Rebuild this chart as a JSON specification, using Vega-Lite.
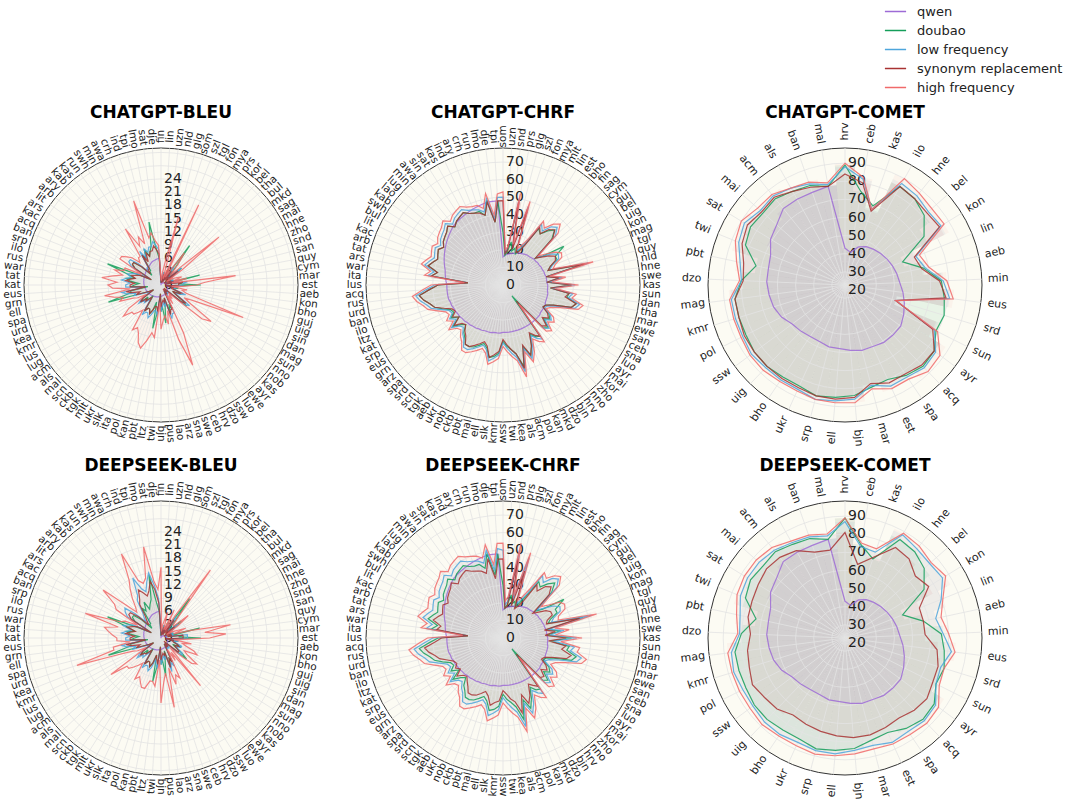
{
  "$schema": "https://vega.github.io/schema/vega-lite/v6.json",
  "autosize": {"type": "pad"},
  "padding": {"left": 3, "top": 0, "right": 0, "bottom": 0},
  "background": "white",
  "config": {
    "font": "DejaVu Sans",
    "view": {"stroke": null},
    "title": {"fontSize": 17, "fontWeight": "bold", "color": "#000000", "offset": 6},
    "legend": {"orient": "none", "legendX": 873, "legendY": -135, "symbolType": "stroke", "symbolSize": 450, "symbolStrokeWidth": 1.5, "labelFontSize": 13, "labelColor": "#222222", "rowPadding": -1, "labelOffset": 10, "padding": 0}
  },
  "datasets": {
    "names": [
      {"k": "q", "s": "qwen"}, {"k": "d", "s": "doubao"},
      {"k": "cl", "s": "low frequency"}, {"k": "cs", "s": "synonym replacement"}, {"k": "ch", "s": "high frequency"},
      {"k": "dl", "s": "low frequency"}, {"k": "ds", "s": "synonym replacement"}, {"k": "dh", "s": "high frequency"}
    ],
    "ticks": [
      {"m": "B", "t": 0}, {"m": "B", "t": 3}, {"m": "B", "t": 6}, {"m": "B", "t": 9}, {"m": "B", "t": 12}, {"m": "B", "t": 15}, {"m": "B", "t": 18}, {"m": "B", "t": 21}, {"m": "B", "t": 24}, {"m": "B", "t": 27}, {"m": "B", "t": 30},
      {"m": "C", "t": 0}, {"m": "C", "t": 10}, {"m": "C", "t": 20}, {"m": "C", "t": 30}, {"m": "C", "t": 40}, {"m": "C", "t": 50}, {"m": "C", "t": 60}, {"m": "C", "t": 70},
      {"m": "M", "t": 20}, {"m": "M", "t": 30}, {"m": "M", "t": 40}, {"m": "M", "t": 50}, {"m": "M", "t": 60}, {"m": "M", "t": 70}, {"m": "M", "t": 80}, {"m": "M", "t": 90}
    ],
    "B": [
      {"l":"fin","q":0.1,"d":0.5,"cl":1,"cs":0.8,"ch":1.5,"dl":2,"ds":1.5,"dh":16},
      {"l":"lin","q":0.1,"d":1,"cl":0.6,"cs":0.5,"ch":1,"dl":0.8,"ds":0.6,"dh":1.5},
      {"l":"uzn","q":0.2,"d":1.5,"cl":1.2,"cs":1,"ch":3,"dl":1.5,"ds":1.2,"dh":3},
      {"l":"nld","q":0.2,"d":2,"cl":2.5,"cs":1.5,"ch":6,"dl":2,"ds":1.5,"dh":4},
      {"l":"glg","q":0.3,"d":3,"cl":3,"cs":2.5,"ch":16,"dl":3,"ds":2.5,"dh":6},
      {"l":"som","q":0.3,"d":1,"cl":0.8,"cs":0.6,"ch":1.5,"dl":1,"ds":0.8,"dh":2},
      {"l":"szl","q":0.4,"d":1.5,"cl":1.5,"cs":1,"ch":3,"dl":1.5,"ds":1,"dh":2.5},
      {"l":"tgl","q":0.4,"d":4,"cl":5,"cs":4,"ch":20,"dl":4,"ds":3,"dh":7},
      {"l":"fon","q":0.5,"d":2,"cl":1,"cs":0.8,"ch":2,"dl":1,"ds":0.8,"dh":2},
      {"l":"mya","q":0.5,"d":3,"cl":2,"cs":1.5,"ch":4,"dl":2.5,"ds":2,"dh":6},
      {"l":"prs","q":0.6,"d":11,"cl":5,"cs":4,"ch":9,"dl":6,"ds":5,"dh":19},
      {"l":"kor","q":0.6,"d":5,"cl":3,"cs":2.5,"ch":6,"dl":3,"ds":2.5,"dh":6},
      {"l":"bel","q":0.7,"d":2,"cl":2,"cs":1.5,"ch":3,"dl":2,"ds":1.5,"dh":4},
      {"l":"tha","q":0.7,"d":3,"cl":3,"cs":2.5,"ch":5,"dl":2.5,"ds":2,"dh":4},
      {"l":"bul","q":0.8,"d":6,"cl":6,"cs":5,"ch":17,"dl":5,"ds":4,"dh":8},
      {"l":"mkd","q":0.8,"d":3,"cl":3,"cs":2.5,"ch":6,"dl":3,"ds":2.5,"dh":5},
      {"l":"sag","q":0.9,"d":1,"cl":1,"cs":0.8,"ch":1.5,"dl":1,"ds":0.8,"dh":1.5},
      {"l":"mai","q":0.9,"d":2,"cl":2,"cs":1.5,"ch":3,"dl":2,"ds":1.5,"dh":3},
      {"l":"hne","q":1,"d":2.5,"cl":2.5,"cs":2,"ch":4,"dl":2.5,"ds":2,"dh":4},
      {"l":"zho","q":1,"d":3,"cl":3,"cs":2.5,"ch":5,"dl":3,"ds":2.5,"dh":6},
      {"l":"snd","q":1.1,"d":2,"cl":2,"cs":1.5,"ch":3,"dl":2,"ds":1.5,"dh":3},
      {"l":"san","q":1.1,"d":9,"cl":4,"cs":3,"ch":6,"dl":3,"ds":2.5,"dh":7},
      {"l":"quy","q":1.2,"d":1.5,"cl":1.5,"cs":1,"ch":2.5,"dl":2,"ds":1.5,"dh":16},
      {"l":"cym","q":1.2,"d":5,"cl":6,"cs":5,"ch":17,"dl":6,"ds":5,"dh":10},
      {"l":"mar","q":1.3,"d":4,"cl":5,"cs":4,"ch":10,"dl":6,"ds":5,"dh":14.7},
      {"l":"est","q":1.3,"d":9,"cl":5,"cs":4,"ch":8,"dl":6,"ds":5,"dh":11},
      {"l":"aeb","q":1.4,"d":3,"cl":3,"cs":2.5,"ch":5,"dl":3,"ds":2.5,"dh":5},
      {"l":"kon","q":1.4,"d":1.5,"cl":1.5,"cs":1,"ch":2.5,"dl":1.5,"ds":1,"dh":3},
      {"l":"bho","q":1.5,"d":4,"cl":3.5,"cs":3,"ch":6,"dl":4,"ds":3,"dh":7},
      {"l":"guj","q":1.5,"d":3,"cl":3,"cs":2.5,"ch":5,"dl":3,"ds":2.5,"dh":5},
      {"l":"uig","q":1.6,"d":3,"cl":3,"cs":2.5,"ch":6,"dl":3.5,"ds":3,"dh":6},
      {"l":"sin","q":1.6,"d":4,"cl":6,"cs":5,"ch":20,"dl":5,"ds":4,"dh":8},
      {"l":"dan","q":1.7,"d":5,"cl":5,"cs":4.5,"ch":9,"dl":5,"ds":4.5,"dh":9},
      {"l":"mag","q":1.7,"d":3,"cl":3.5,"cs":3,"ch":6,"dl":4,"ds":3.5,"dh":6},
      {"l":"sun","q":1.8,"d":4,"cl":4.5,"cs":4,"ch":8,"dl":4.5,"ds":4,"dh":7},
      {"l":"nno","q":1.8,"d":6,"cl":8,"cs":7,"ch":14,"dl":6,"ds":5,"dh":10},
      {"l":"nob","q":1.9,"d":7.5,"cl":7,"cs":6,"ch":12,"dl":6,"ds":5,"dh":9},
      {"l":"kas","q":1.9,"d":2,"cl":2.5,"cs":2,"ch":4,"dl":2.5,"ds":2,"dh":5},
      {"l":"ayr","q":2,"d":1.5,"cl":1.5,"cs":1,"ch":2.5,"dl":1.5,"ds":1,"dh":3},
      {"l":"ewe","q":2,"d":2,"cl":2.5,"cs":2,"ch":4,"dl":3,"ds":2.5,"dh":14},
      {"l":"luo","q":2.1,"d":2,"cl":2,"cs":1.5,"ch":3,"dl":2,"ds":1.5,"dh":4},
      {"l":"ssw","q":2.1,"d":2.5,"cl":3,"cs":2.5,"ch":5,"dl":3,"ds":2.5,"dh":6},
      {"l":"dzo","q":2.2,"d":1.5,"cl":1.5,"cs":1,"ch":2.5,"dl":2,"ds":1.5,"dh":3},
      {"l":"hrv","q":2.2,"d":6,"cl":7,"cs":6,"ch":12,"dl":7,"ds":6,"dh":10},
      {"l":"ceb","q":2.3,"d":5,"cl":7,"cs":6,"ch":19.5,"dl":6,"ds":5,"dh":9},
      {"l":"swe","q":2.3,"d":7,"cl":8,"cs":7,"ch":13,"dl":8,"ds":7,"dh":11},
      {"l":"sna","q":2.4,"d":3,"cl":3.5,"cs":3,"ch":6,"dl":4,"ds":3.5,"dh":7},
      {"l":"arz","q":2.4,"d":5,"cl":5,"cs":4,"ch":9,"dl":5,"ds":4,"dh":16},
      {"l":"lao","q":2.5,"d":8.7,"cl":4,"cs":3.5,"ch":7,"dl":4,"ds":3.5,"dh":8},
      {"l":"pus","q":2.5,"d":5,"cl":5,"cs":4,"ch":8,"dl":5,"ds":4,"dh":10},
      {"l":"bjn","q":2.6,"d":6,"cl":6,"cs":5,"ch":10,"dl":6,"ds":5,"dh":14.7},
      {"l":"twi","q":2.6,"d":2,"cl":2.5,"cs":2,"ch":4,"dl":2.5,"ds":2,"dh":5},
      {"l":"ltz","q":2.7,"d":6,"cl":7,"cs":6,"ch":12,"dl":7,"ds":6,"dh":11},
      {"l":"pbt","q":2.7,"d":10,"cl":6,"cs":5,"ch":11,"dl":6,"ds":5,"dh":10},
      {"l":"kan","q":2.8,"d":4,"cl":6,"cs":5,"ch":13,"dl":5,"ds":4,"dh":10},
      {"l":"pol","q":2.8,"d":6,"cl":7,"cs":6,"ch":15,"dl":7,"ds":6,"dh":12},
      {"l":"ita","q":2.9,"d":7,"cl":8,"cs":7,"ch":14,"dl":8,"ds":7,"dh":12},
      {"l":"slk","q":2.9,"d":6,"cl":7,"cs":6,"ch":12,"dl":7,"ds":6,"dh":11},
      {"l":"ukr","q":3,"d":6,"cl":7,"cs":6,"ch":11,"dl":7,"ds":6,"dh":10},
      {"l":"mlt","q":3,"d":7,"cl":8,"cs":7,"ch":12,"dl":8,"ds":7,"dh":11},
      {"l":"tgk","q":3.1,"d":3,"cl":4,"cs":3.5,"ch":7,"dl":4,"ds":3.5,"dh":7},
      {"l":"ckb","q":3.1,"d":4,"cl":4.5,"cs":4,"ch":8,"dl":4.5,"ds":4,"dh":8},
      {"l":"scn","q":3.2,"d":5,"cl":5.5,"cs":5,"ch":9,"dl":6,"ds":5,"dh":9},
      {"l":"mal","q":3.2,"d":4,"cl":5,"cs":4.5,"ch":9,"dl":5.5,"ds":5,"dh":10},
      {"l":"als","q":3.3,"d":6,"cl":6.5,"cs":6,"ch":11,"dl":7,"ds":6,"dh":10},
      {"l":"acm","q":3.3,"d":5,"cl":5.5,"cs":5,"ch":9,"dl":6,"ds":5,"dh":14},
      {"l":"lug","q":3.4,"d":2,"cl":2.5,"cs":2,"ch":4,"dl":2.5,"ds":2,"dh":4},
      {"l":"lus","q":3.4,"d":3,"cl":3.5,"cs":3,"ch":6,"dl":3.5,"ds":3,"dh":6},
      {"l":"kmr","q":3.5,"d":4,"cl":4.5,"cs":4,"ch":7,"dl":4.5,"ds":4,"dh":7},
      {"l":"kea","q":3.5,"d":6,"cl":6.5,"cs":6,"ch":10,"dl":7,"ds":6,"dh":10},
      {"l":"urd","q":3.6,"d":12.5,"cl":6,"cs":5,"ch":9,"dl":6,"ds":5,"dh":20},
      {"l":"spa","q":3.6,"d":7,"cl":8,"cs":7,"ch":11,"dl":8,"ds":7,"dh":11},
      {"l":"ell","q":3.7,"d":7,"cl":9,"cs":8,"ch":13,"dl":9,"ds":8,"dh":11},
      {"l":"grn","q":3.7,"d":3,"cl":4,"cs":3.5,"ch":7,"dl":4,"ds":3.5,"dh":7},
      {"l":"eus","q":3.8,"d":7,"cl":8,"cs":7,"ch":11,"dl":8,"ds":7,"dh":10},
      {"l":"kat","q":3.8,"d":6,"cl":8,"cs":7,"ch":12,"dl":8,"ds":7,"dh":10},
      {"l":"tat","q":3.9,"d":5,"cl":7,"cs":6,"ch":10,"dl":7,"ds":6,"dh":11},
      {"l":"war","q":3.9,"d":7,"cl":9,"cs":8,"ch":13.5,"dl":9,"ds":8,"dh":12},
      {"l":"rus","q":4,"d":8,"cl":8,"cs":7,"ch":11,"dl":8,"ds":7,"dh":13},
      {"l":"ilo","q":4,"d":6,"cl":7,"cs":6,"ch":9,"dl":7,"ds":6,"dh":10},
      {"l":"srp","q":4.1,"d":8,"cl":8,"cs":7,"ch":11,"dl":9,"ds":8,"dh":18},
      {"l":"ban","q":4.1,"d":13,"cl":7,"cs":6,"ch":9,"dl":8,"ds":7,"dh":10},
      {"l":"acq","q":4.2,"d":5,"cl":6,"cs":5,"ch":9,"dl":7,"ds":6,"dh":9},
      {"l":"kac","q":4.2,"d":2.5,"cl":3,"cs":2.5,"ch":5,"dl":3,"ds":2.5,"dh":6},
      {"l":"ars","q":4.3,"d":7,"cl":8,"cs":7,"ch":11,"dl":9,"ds":8,"dh":12},
      {"l":"lit","q":4.4,"d":8,"cl":9,"cs":8,"ch":11,"dl":10,"ds":9,"dh":13},
      {"l":"arb","q":4.5,"d":8,"cl":9,"cs":8,"ch":10,"dl":10.6,"ds":9,"dh":17},
      {"l":"ary","q":4.6,"d":6,"cl":7,"cs":6,"ch":9,"dl":8,"ds":7,"dh":11},
      {"l":"kab","q":4.7,"d":3,"cl":4,"cs":3.5,"ch":7,"dl":5,"ds":4,"dh":8},
      {"l":"kas","q":4.8,"d":4,"cl":5,"cs":4.5,"ch":8,"dl":6,"ds":5,"dh":9},
      {"l":"run","q":4.9,"d":4,"cl":5,"cs":4.5,"ch":8,"dl":7,"ds":6,"dh":11},
      {"l":"swh","q":5,"d":8,"cl":9,"cs":8,"ch":15,"dl":10,"ds":9,"dh":13},
      {"l":"min","q":5.2,"d":7,"cl":7,"cs":6,"ch":10,"dl":11,"ds":10,"dh":15},
      {"l":"awa","q":5.4,"d":9,"cl":9,"cs":8,"ch":12,"dl":15,"ds":12,"dh":21},
      {"l":"crh","q":5.6,"d":7,"cl":8,"cs":7,"ch":10,"dl":12,"ds":11,"dh":14},
      {"l":"ind","q":5.7,"d":8,"cl":9,"cs":8,"ch":20,"dl":11,"ds":10,"dh":13},
      {"l":"tpi","q":5.8,"d":9,"cl":9,"cs":8,"ch":11,"dl":13,"ds":11,"dh":14},
      {"l":"lmo","q":5.9,"d":14.5,"cl":10,"cs":9,"ch":12,"dl":15,"ds":13,"dh":21},
      {"l":"sat","q":6,"d":8,"cl":9,"cs":8,"ch":10,"dl":12,"ds":11,"dh":13},
      {"l":"dje","q":6.1,"d":6,"cl":8,"cs":7,"ch":9,"dl":9,"ds":8,"dh":11}
    ],
    "C": [
      {"l":"som","q":16,"d":30,"cl":50,"cs":48,"ch":53,"dl":50,"ds":45,"dh":54},
      {"l":"uzn","q":17,"d":17,"cl":19,"cs":18,"ch":20,"dl":19,"ds":17,"dh":21},
      {"l":"snd","q":17.5,"d":19,"cl":21,"cs":20,"ch":22,"dl":21,"ds":18,"dh":24},
      {"l":"prs","q":18,"d":25,"cl":50,"cs":48,"ch":53,"dl":51,"ds":46,"dh":55},
      {"l":"glg","q":18.5,"d":20,"cl":22,"cs":21,"ch":24,"dl":23,"ds":19,"dh":25},
      {"l":"szl","q":19,"d":22,"cl":47,"cs":45,"ch":50,"dl":48,"ds":40,"dh":51},
      {"l":"fon","q":19.5,"d":19,"cl":21,"cs":20,"ch":22,"dl":21,"ds":18,"dh":23},
      {"l":"mya","q":20,"d":22,"cl":23,"cs":21,"ch":25,"dl":24,"ds":20,"dh":26},
      {"l":"mlt","q":20.5,"d":27,"cl":28,"cs":26,"ch":30,"dl":29,"ds":24,"dh":32},
      {"l":"lin","q":21,"d":38,"cl":41,"cs":39,"ch":43,"dl":42,"ds":36,"dh":44},
      {"l":"est","q":21.5,"d":36,"cl":38,"cs":36,"ch":40,"dl":39,"ds":33,"dh":42},
      {"l":"bho","q":22,"d":40,"cl":43,"cs":41,"ch":45,"dl":44,"ds":38,"dh":46},
      {"l":"fin","q":22,"d":43,"cl":45,"cs":43,"ch":47.6,"dl":46,"ds":40,"dh":48},
      {"l":"sag","q":22.5,"d":38,"cl":41,"cs":39,"ch":43,"dl":42,"ds":36,"dh":44},
      {"l":"cym","q":23,"d":24,"cl":25,"cs":24,"ch":26,"dl":25,"ds":22,"dh":28},
      {"l":"guj","q":23,"d":28,"cl":28,"cs":27,"ch":30,"dl":29,"ds":25,"dh":32},
      {"l":"bel","q":23.5,"d":41,"cl":33,"cs":31,"ch":35,"dl":34,"ds":29,"dh":38},
      {"l":"uig","q":23.5,"d":34,"cl":36,"cs":34,"ch":38,"dl":37,"ds":31,"dh":40},
      {"l":"kon","q":24,"d":34,"cl":35,"cs":33,"ch":37,"dl":36,"ds":31,"dh":39},
      {"l":"mag","q":24,"d":29,"cl":30,"cs":29,"ch":32,"dl":31,"ds":27,"dh":34},
      {"l":"tgl","q":24.5,"d":27,"cl":28,"cs":27,"ch":30,"dl":29,"ds":26,"dh":33},
      {"l":"quy","q":24.5,"d":47,"cl":50,"cs":48,"ch":53,"dl":52,"ds":45,"dh":55},
      {"l":"nld","q":25,"d":25,"cl":26,"cs":25,"ch":27,"dl":26,"ds":24,"dh":30},
      {"l":"hne","q":25,"d":33,"cl":34,"cs":32,"ch":36,"dl":35,"ds":30,"dh":38},
      {"l":"swe","q":25,"d":25,"cl":26,"cs":25,"ch":28,"dl":27,"ds":24,"dh":30},
      {"l":"kas","q":25.5,"d":39,"cl":41,"cs":39,"ch":43,"dl":42,"ds":36,"dh":45},
      {"l":"sun","q":25.5,"d":27,"cl":28,"cs":27,"ch":30,"dl":29,"ds":26,"dh":33},
      {"l":"dan","q":25.5,"d":38,"cl":40,"cs":38,"ch":42,"dl":41,"ds":36,"dh":44},
      {"l":"tha","q":26,"d":37,"cl":38,"cs":36,"ch":40,"dl":39,"ds":34,"dh":43},
      {"l":"mar","q":26,"d":43,"cl":45,"cs":43,"ch":47,"dl":46,"ds":40,"dh":49},
      {"l":"ewe","q":26,"d":41,"cl":43,"cs":41,"ch":45,"dl":44,"ds":38,"dh":47},
      {"l":"san","q":26,"d":31,"cl":33,"cs":31,"ch":35,"dl":34,"ds":30,"dh":38},
      {"l":"ceb","q":26.5,"d":27,"cl":28,"cs":27,"ch":30,"dl":29,"ds":26,"dh":33},
      {"l":"sna","q":26.5,"d":26,"cl":27,"cs":26,"ch":28,"dl":27,"ds":25,"dh":31},
      {"l":"luo","q":26.5,"d":31,"cl":32,"cs":30,"ch":34,"dl":33,"ds":29,"dh":36},
      {"l":"ayr","q":26.5,"d":33,"cl":34,"cs":32,"ch":36,"dl":35,"ds":31,"dh":38},
      {"l":"mai","q":27,"d":30,"cl":31,"cs":29,"ch":33,"dl":32,"ds":28,"dh":35},
      {"l":"kor","q":27,"d":35,"cl":36,"cs":34,"ch":38,"dl":37,"ds":32,"dh":40},
      {"l":"zho","q":27,"d":33,"cl":34,"cs":32,"ch":36,"dl":35,"ds":31,"dh":38},
      {"l":"nno","q":27,"d":8,"cl":13,"cs":12,"ch":14,"dl":13,"ds":12,"dh":14},
      {"l":"hrv","q":27,"d":36,"cl":38,"cs":36,"ch":40,"dl":39,"ds":34,"dh":42},
      {"l":"bjn","q":27,"d":35,"cl":36,"cs":34,"ch":38,"dl":37,"ds":32,"dh":40},
      {"l":"dzo","q":27,"d":32,"cl":33,"cs":31,"ch":35,"dl":34,"ds":30,"dh":37},
      {"l":"mkd","q":27,"d":38,"cl":40,"cs":38,"ch":42,"dl":41,"ds":36,"dh":44},
      {"l":"kan","q":27,"d":43,"cl":45,"cs":43,"ch":47,"dl":46,"ds":40,"dh":49},
      {"l":"pol","q":27,"d":37,"cl":38,"cs":36,"ch":40,"dl":39,"ds":34,"dh":42},
      {"l":"acm","q":27,"d":48,"cl":51,"cs":49,"ch":54,"dl":52,"ds":44,"dh":55},
      {"l":"als","q":27,"d":40,"cl":42,"cs":40,"ch":44,"dl":43,"ds":37,"dh":46},
      {"l":"kea","q":27,"d":37,"cl":39,"cs":37,"ch":41,"dl":40,"ds":35,"dh":43},
      {"l":"twi","q":27,"d":35,"cl":36,"cs":34,"ch":38,"dl":37,"ds":32,"dh":40},
      {"l":"ssw","q":27,"d":32,"cl":33,"cs":31,"ch":35,"dl":34,"ds":30,"dh":37},
      {"l":"kmr","q":27.5,"d":39,"cl":40,"cs":38,"ch":42,"dl":41,"ds":36,"dh":44},
      {"l":"slk","q":27.5,"d":41,"cl":42,"cs":40,"ch":44,"dl":43,"ds":37,"dh":46},
      {"l":"ell","q":27.5,"d":42,"cl":44,"cs":42,"ch":46,"dl":45,"ds":39,"dh":48},
      {"l":"mal","q":28,"d":37,"cl":38,"cs":36,"ch":40,"dl":39,"ds":34,"dh":42},
      {"l":"pbt","q":28,"d":35,"cl":36,"cs":34,"ch":38,"dl":37,"ds":32,"dh":40},
      {"l":"ckb","q":28,"d":37,"cl":38,"cs":36,"ch":40,"dl":39,"ds":34,"dh":42},
      {"l":"nob","q":28.5,"d":39,"cl":40,"cs":38,"ch":42,"dl":41,"ds":36,"dh":44},
      {"l":"ukr","q":28.5,"d":40,"cl":42,"cs":40,"ch":44,"dl":43,"ds":37,"dh":46},
      {"l":"aeb","q":29,"d":40,"cl":42,"cs":40,"ch":44,"dl":43,"ds":37,"dh":46},
      {"l":"tgk","q":29,"d":37,"cl":38,"cs":36,"ch":40,"dl":39,"ds":34,"dh":42},
      {"l":"scn","q":29.5,"d":35,"cl":36,"cs":34,"ch":38,"dl":37,"ds":32,"dh":40},
      {"l":"srd","q":29.5,"d":31,"cl":33,"cs":31,"ch":35,"dl":34,"ds":30,"dh":37},
      {"l":"spa","q":30,"d":33,"cl":34,"cs":32,"ch":36,"dl":35,"ds":31,"dh":38},
      {"l":"arz","q":30,"d":37,"cl":38,"cs":36,"ch":40,"dl":39,"ds":34,"dh":42},
      {"l":"grn","q":30.5,"d":31,"cl":33,"cs":31,"ch":35,"dl":34,"ds":30,"dh":37},
      {"l":"eus","q":30.5,"d":35,"cl":36,"cs":34,"ch":38,"dl":37,"ds":32,"dh":40},
      {"l":"srp","q":31,"d":32,"cl":33,"cs":31,"ch":35,"dl":34,"ds":30,"dh":37},
      {"l":"kat","q":31,"d":33,"cl":34,"cs":32,"ch":36,"dl":35,"ds":31,"dh":38},
      {"l":"ltz","q":31.5,"d":37,"cl":38,"cs":36,"ch":40,"dl":39,"ds":34,"dh":42},
      {"l":"ilo","q":31.5,"d":41,"cl":43,"cs":41,"ch":45,"dl":44,"ds":38,"dh":47},
      {"l":"ban","q":32,"d":43,"cl":45,"cs":43,"ch":47,"dl":46,"ds":40,"dh":49},
      {"l":"urd","q":32,"d":46,"cl":48,"cs":46,"ch":50,"dl":49,"ds":43,"dh":52},
      {"l":"rus","q":32,"d":48,"cl":50,"cs":48,"ch":52,"dl":51,"ds":45,"dh":54},
      {"l":"acq","q":32,"d":42,"cl":44,"cs":42,"ch":46,"dl":45,"ds":39,"dh":48},
      {"l":"lus","q":32,"d":37,"cl":39,"cs":37,"ch":41,"dl":40,"ds":35,"dh":43},
      {"l":"ita","q":32.5,"d":20,"cl":21,"cs":20,"ch":22,"dl":21,"ds":20,"dh":23},
      {"l":"war","q":33,"d":41,"cl":43,"cs":41,"ch":45,"dl":44,"ds":38,"dh":47},
      {"l":"ars","q":33.5,"d":38,"cl":40,"cs":38,"ch":42,"dl":41,"ds":36,"dh":44},
      {"l":"tat","q":34,"d":44,"cl":46,"cs":44,"ch":48,"dl":47,"ds":41,"dh":50},
      {"l":"arb","q":35,"d":42,"cl":44,"cs":42,"ch":46,"dl":45,"ds":39,"dh":48},
      {"l":"kac","q":36,"d":40,"cl":42,"cs":40,"ch":44,"dl":43,"ds":37,"dh":46},
      {"l":"lit","q":37,"d":41,"cl":43,"cs":41,"ch":45,"dl":44,"ds":38,"dh":47},
      {"l":"bul","q":38,"d":42,"cl":44,"cs":42,"ch":46,"dl":45,"ds":39,"dh":48},
      {"l":"swh","q":39,"d":40,"cl":42,"cs":40,"ch":44,"dl":43,"ds":37,"dh":46},
      {"l":"kab","q":40,"d":42,"cl":44,"cs":42,"ch":46,"dl":45,"ds":39,"dh":48},
      {"l":"lao","q":41,"d":43,"cl":45,"cs":43,"ch":47,"dl":46,"ds":40,"dh":49},
      {"l":"lug","q":42,"d":44,"cl":46,"cs":44,"ch":48,"dl":47,"ds":41,"dh":50},
      {"l":"min","q":43,"d":46,"cl":48,"cs":46,"ch":50,"dl":49,"ds":43,"dh":52},
      {"l":"awa","q":44,"d":43,"cl":45,"cs":43,"ch":47,"dl":46,"ds":40,"dh":49},
      {"l":"sin","q":44.5,"d":45,"cl":47,"cs":45,"ch":49,"dl":48,"ds":42,"dh":51},
      {"l":"sat","q":45,"d":46,"cl":48,"cs":46,"ch":50,"dl":49,"ds":43,"dh":52},
      {"l":"kas","q":45.5,"d":47,"cl":49,"cs":47,"ch":51,"dl":50,"ds":44,"dh":53},
      {"l":"ind","q":46,"d":45,"cl":47,"cs":45,"ch":49,"dl":48,"ds":42,"dh":51},
      {"l":"ary","q":46.5,"d":44,"cl":46,"cs":44,"ch":48,"dl":47,"ds":41,"dh":50},
      {"l":"crh","q":47,"d":44,"cl":45,"cs":43,"ch":47.6,"dl":46,"ds":40,"dh":49},
      {"l":"run","q":47.5,"d":41,"cl":43,"cs":41,"ch":45,"dl":44,"ds":38,"dh":47},
      {"l":"lmo","q":48,"d":49,"cl":50,"cs":48,"ch":53,"dl":51,"ds":46,"dh":54},
      {"l":"dje","q":48,"d":36,"cl":38,"cs":36,"ch":40,"dl":39,"ds":34,"dh":42},
      {"l":"tpi","q":48,"d":48,"cl":50,"cs":48,"ch":52,"dl":51,"ds":45,"dh":54}
    ],
    "M": [
      {"l":"hrv","q":43,"d":89,"cl":88,"cs":84,"ch":90,"dl":87,"ds":81,"dh":89},
      {"l":"ceb","q":41,"d":75,"cl":82,"cs":80,"ch":83,"dl":74,"ds":64,"dh":76},
      {"l":"kas","q":45,"d":69,"cl":67,"cs":66,"ch":67,"dl":73,"ds":70,"dh":75},
      {"l":"ilo","q":47,"d":85,"cl":87,"cs":85,"ch":90,"dl":88,"ds":80,"dh":89},
      {"l":"hne","q":48,"d":84,"cl":86,"cs":84,"ch":88,"dl":86,"ds":79,"dh":88},
      {"l":"bel","q":49,"d":81,"cl":84,"cs":83,"ch":86.6,"dl":85,"ds":74.5,"dh":86},
      {"l":"kon","q":50,"d":74,"cl":85,"cs":84,"ch":87,"dl":86,"ds":77,"dh":88},
      {"l":"lin","q":51,"d":57,"cl":65,"cs":64,"ch":67,"dl":80,"ds":67,"dh":81},
      {"l":"aeb","q":52,"d":67,"cl":68,"cs":66,"ch":70,"dl":74,"ds":67,"dh":77},
      {"l":"min","q":53,"d":76,"cl":77,"cs":75,"ch":79,"dl":77,"ds":67,"dh":80},
      {"l":"eus","q":55,"d":78,"cl":81,"cs":79,"ch":83,"dl":82,"ds":74,"dh":84},
      {"l":"srd","q":57,"d":80,"cl":52,"cs":52,"ch":52,"dl":78,"ds":76.5,"dh":80},
      {"l":"sun","q":59,"d":79,"cl":78,"cs":77,"ch":80,"dl":79,"ds":77,"dh":81},
      {"l":"ayr","q":61,"d":84,"cl":85,"cs":84,"ch":88,"dl":85,"ds":79,"dh":87},
      {"l":"acq","q":61,"d":85,"cl":86,"cs":84,"ch":89,"dl":86,"ds":78,"dh":88},
      {"l":"spa","q":61,"d":83,"cl":84,"cs":82,"ch":85.5,"dl":85,"ds":76,"dh":87},
      {"l":"est","q":60,"d":80,"cl":84,"cs":82,"ch":85.5,"dl":86,"ds":77,"dh":87},
      {"l":"mar","q":60,"d":81,"cl":80,"cs":79,"ch":82,"dl":84,"ds":78,"dh":86},
      {"l":"bjn","q":59,"d":84,"cl":86,"cs":85,"ch":88,"dl":85,"ds":78,"dh":87},
      {"l":"ell","q":58,"d":85,"cl":87,"cs":86,"ch":88,"dl":87,"ds":77,"dh":88},
      {"l":"srp","q":58,"d":86,"cl":88,"cs":86,"ch":88,"dl":87,"ds":76,"dh":89},
      {"l":"ukr","q":57,"d":84,"cl":86,"cs":85,"ch":87,"dl":86,"ds":75,"dh":88},
      {"l":"bho","q":57,"d":84,"cl":86,"cs":85,"ch":87,"dl":87,"ds":74,"dh":88},
      {"l":"uig","q":58,"d":85,"cl":86,"cs":85,"ch":88,"dl":87,"ds":77,"dh":89},
      {"l":"ssw","q":59,"d":85,"cl":87,"cs":85,"ch":88,"dl":86,"ds":78,"dh":88},
      {"l":"pol","q":62,"d":84,"cl":86,"cs":85,"ch":87,"dl":86,"ds":80,"dh":88},
      {"l":"kmr","q":64,"d":84,"cl":86,"cs":84,"ch":87,"dl":87,"ds":78,"dh":88},
      {"l":"mag","q":65,"d":84,"cl":86,"cs":84,"ch":87,"dl":86,"ds":77,"dh":88},
      {"l":"dzo","q":66,"d":80,"cl":80,"cs":79,"ch":81,"dl":81,"ds":75,"dh":82},
      {"l":"pbt","q":66,"d":73,"cl":82,"cs":80,"ch":84,"dl":82,"ds":77.5,"dh":84},
      {"l":"twi","q":67,"d":82,"cl":86,"cs":84,"ch":88,"dl":85,"ds":78,"dh":87},
      {"l":"sat","q":71,"d":84,"cl":88,"cs":86,"ch":90,"dl":86,"ds":79,"dh":88},
      {"l":"mai","q":73,"d":83,"cl":85,"cs":84,"ch":87,"dl":86,"ds":80.5,"dh":88},
      {"l":"acm","q":77,"d":84,"cl":86,"cs":85,"ch":87,"dl":85,"ds":80,"dh":87},
      {"l":"als","q":77,"d":82,"cl":84,"cs":82,"ch":84,"dl":83,"ds":78,"dh":84},
      {"l":"ban","q":77,"d":81,"cl":82,"cs":80,"ch":83,"dl":82,"ds":73,"dh":83},
      {"l":"mal","q":78,"d":78,"cl":79,"cs":78,"ch":80,"dl":80,"ds":72,"dh":81}
    ]
  },
  "spacing": 9,
  "vconcat": [
    {
      "spacing": 42,
      "bounds": "flush",
      "hconcat": [
        {
          "title": {"text": "CHATGPT-BLEU"}, "width": 300, "height": 300,
          "layer": [
            {"data": {"values": [{"c": 0}]}, "mark": {"type": "point", "shape": "circle", "filled": true, "fill": "#fcfbf3", "stroke": "#333333", "strokeWidth": 1, "opacity": 1, "fillOpacity": 1, "size": 75076}, "encoding": {"x": {"datum": 0, "type": "quantitative", "scale": {"domain": [-1.095, 1.095], "nice": false, "zero": false}, "axis": null}, "y": {"datum": 0, "type": "quantitative", "scale": {"domain": [-1.095, 1.095], "nice": false, "zero": false}, "axis": null}}},
            {"data": {"name": "B"}, "transform": [{"window": [{"op": "row_number", "as": "i"}]}, {"joinaggregate": [{"op": "count", "as": "n"}]}, {"fold": ["q", "d", "cl", "cs", "ch"], "as": ["k", "v"]}, {"lookup": "k", "from": {"data": {"name": "names"}, "key": "k", "fields": ["s"]}}, {"calculate": "datum.v/31", "as": "r"}, {"calculate": "2*PI*(datum.i-1.5)/datum.n", "as": "t0"}, {"calculate": "2*PI*(datum.i-0.5)/datum.n", "as": "t1"}], "mark": {"type": "arc", "strokeWidth": 0}, "encoding": {"theta": {"field": "t0", "type": "quantitative", "scale": null, "stack": null}, "theta2": {"field": "t1"}, "radius": {"field": "r", "type": "quantitative", "scale": {"type": "linear", "domain": [0, 1], "range": [0, 137], "zero": true}}, "color": {"field": "s", "type": "nominal", "title": null, "scale": {"domain": ["qwen", "doubao", "low frequency", "synonym replacement", "high frequency"], "range": ["#9d6bd6", "#149e5a", "#4ea6dc", "#a83232", "#f06a6a"]}}, "fillOpacity": {"field": "s", "type": "nominal", "scale": {"domain": ["qwen", "doubao", "low frequency", "synonym replacement", "high frequency"], "range": [0.1, 0.05, 0.05, 0.15, 0.2]}}}},
            {"data": {"name": "ticks"}, "transform": [{"filter": "datum.m=='B'"}, {"calculate": "datum.t/31", "as": "r"}, {"filter": "datum.r>0"}], "mark": {"type": "point", "shape": "circle", "filled": false, "stroke": "#e3e3e3", "strokeWidth": 0.8, "opacity": 1}, "encoding": {"x": {"datum": 0, "type": "quantitative", "scale": {"domain": [-1.095, 1.095], "nice": false, "zero": false}, "axis": null}, "y": {"datum": 0, "type": "quantitative", "scale": {"domain": [-1.095, 1.095], "nice": false, "zero": false}, "axis": null}, "size": {"field": "r", "type": "quantitative", "legend": null, "scale": {"type": "pow", "exponent": 2, "domain": [0, 1], "range": [0, 75076]}}}},
            {"data": {"name": "B"}, "transform": [{"window": [{"op": "row_number", "as": "i"}]}, {"joinaggregate": [{"op": "count", "as": "n"}]}, {"calculate": "2*PI*(datum.i-1)/datum.n", "as": "th"}, {"calculate": "sin(datum.th)", "as": "sx"}, {"calculate": "cos(datum.th)", "as": "sy"}], "mark": {"type": "rule", "stroke": "#e3e3e3", "strokeWidth": 0.8}, "encoding": {"x": {"datum": 0, "type": "quantitative", "scale": {"domain": [-1.095, 1.095], "nice": false, "zero": false}, "axis": null}, "y": {"datum": 0, "type": "quantitative", "scale": {"domain": [-1.095, 1.095], "nice": false, "zero": false}, "axis": null}, "x2": {"field": "sx", "type": "quantitative"}, "y2": {"field": "sy", "type": "quantitative"}}},
            {"data": {"name": "ticks"}, "transform": [{"filter": "datum.m=='B' && datum.t<=24"}, {"calculate": "datum.t/31", "as": "r"}], "mark": {"type": "text", "align": "left", "baseline": "middle", "dx": 3, "fontSize": 14, "color": "#222222"}, "encoding": {"x": {"datum": 0, "type": "quantitative", "scale": {"domain": [-1.095, 1.095], "nice": false, "zero": false}, "axis": null}, "y": {"field": "r", "type": "quantitative", "scale": {"domain": [-1.095, 1.095], "nice": false, "zero": false}, "axis": null}, "text": {"field": "t", "type": "quantitative"}}},
            {"data": {"name": "B"}, "transform": [{"window": [{"op": "row_number", "as": "i"}]}, {"joinaggregate": [{"op": "count", "as": "n"}]}, {"calculate": "2*PI*(datum.i-1)/datum.n", "as": "th"}, {"fold": ["q", "d", "cl", "cs", "ch"], "as": ["k", "v"]}, {"lookup": "k", "from": {"data": {"name": "names"}, "key": "k", "fields": ["s"]}}, {"calculate": "datum.v/31", "as": "r"}, {"calculate": "datum.r*sin(datum.th)", "as": "px"}, {"calculate": "datum.r*cos(datum.th)", "as": "py"}], "mark": {"type": "line", "interpolate": "linear-closed", "strokeWidth": 1.2, "strokeOpacity": 0.85}, "encoding": {"x": {"field": "px", "type": "quantitative", "scale": {"domain": [-1.095, 1.095], "nice": false, "zero": false}, "axis": null}, "y": {"field": "py", "type": "quantitative", "scale": {"domain": [-1.095, 1.095], "nice": false, "zero": false}, "axis": null}, "color": {"field": "s", "type": "nominal", "title": null, "scale": {"domain": ["qwen", "doubao", "low frequency", "synonym replacement", "high frequency"], "range": ["#9d6bd6", "#149e5a", "#4ea6dc", "#a83232", "#f06a6a"]}}, "order": {"field": "i", "type": "quantitative"}}},
            {"data": {"name": "B"}, "transform": [{"window": [{"op": "row_number", "as": "i"}]}, {"joinaggregate": [{"op": "count", "as": "n"}]}, {"calculate": "2*PI*(datum.i-1)/datum.n", "as": "th"}, {"calculate": "1.085*sin(datum.th)", "as": "lx"}, {"calculate": "1.085*cos(datum.th)", "as": "ly"}, {"calculate": "datum.th<=PI ? datum.th*180/PI-90 : datum.th*180/PI-270", "as": "a"}], "mark": {"type": "text", "fontSize": 10.5, "align": "center", "baseline": "middle", "color": "#222222"}, "encoding": {"x": {"field": "lx", "type": "quantitative", "scale": {"domain": [-1.095, 1.095], "nice": false, "zero": false}, "axis": null}, "y": {"field": "ly", "type": "quantitative", "scale": {"domain": [-1.095, 1.095], "nice": false, "zero": false}, "axis": null}, "text": {"field": "l", "type": "nominal"}, "angle": {"field": "a", "type": "quantitative", "scale": null}}}
          ]
        },
        {
          "title": {"text": "CHATGPT-CHRF", "dy": 3}, "width": 300, "height": 300,
          "layer": [
            {"data": {"values": [{"c": 0}]}, "mark": {"type": "point", "shape": "circle", "filled": true, "fill": "#fcfbf3", "stroke": "#333333", "strokeWidth": 1, "opacity": 1, "fillOpacity": 1, "size": 75076}, "encoding": {"x": {"datum": 0, "type": "quantitative", "scale": {"domain": [-1.095, 1.095], "nice": false, "zero": false}, "axis": null}, "y": {"datum": 0, "type": "quantitative", "scale": {"domain": [-1.095, 1.095], "nice": false, "zero": false}, "axis": null}}},
            {"data": {"name": "C"}, "transform": [{"window": [{"op": "row_number", "as": "i"}]}, {"joinaggregate": [{"op": "count", "as": "n"}]}, {"fold": ["q", "d", "cl", "cs", "ch"], "as": ["k", "v"]}, {"lookup": "k", "from": {"data": {"name": "names"}, "key": "k", "fields": ["s"]}}, {"calculate": "datum.v/78", "as": "r"}, {"calculate": "2*PI*(datum.i-1.5)/datum.n", "as": "t0"}, {"calculate": "2*PI*(datum.i-0.5)/datum.n", "as": "t1"}], "mark": {"type": "arc", "strokeWidth": 0}, "encoding": {"theta": {"field": "t0", "type": "quantitative", "scale": null, "stack": null}, "theta2": {"field": "t1"}, "radius": {"field": "r", "type": "quantitative", "scale": {"type": "linear", "domain": [0, 1], "range": [0, 137], "zero": true}}, "color": {"field": "s", "type": "nominal", "title": null, "scale": {"domain": ["qwen", "doubao", "low frequency", "synonym replacement", "high frequency"], "range": ["#9d6bd6", "#149e5a", "#4ea6dc", "#a83232", "#f06a6a"]}}, "fillOpacity": {"field": "s", "type": "nominal", "scale": {"domain": ["qwen", "doubao", "low frequency", "synonym replacement", "high frequency"], "range": [0.1, 0.05, 0.05, 0.15, 0.2]}}}},
            {"data": {"name": "ticks"}, "transform": [{"filter": "datum.m=='C'"}, {"calculate": "datum.t/78", "as": "r"}, {"filter": "datum.r>0"}], "mark": {"type": "point", "shape": "circle", "filled": false, "stroke": "#e3e3e3", "strokeWidth": 0.8, "opacity": 1}, "encoding": {"x": {"datum": 0, "type": "quantitative", "scale": {"domain": [-1.095, 1.095], "nice": false, "zero": false}, "axis": null}, "y": {"datum": 0, "type": "quantitative", "scale": {"domain": [-1.095, 1.095], "nice": false, "zero": false}, "axis": null}, "size": {"field": "r", "type": "quantitative", "legend": null, "scale": {"type": "pow", "exponent": 2, "domain": [0, 1], "range": [0, 75076]}}}},
            {"data": {"name": "C"}, "transform": [{"window": [{"op": "row_number", "as": "i"}]}, {"joinaggregate": [{"op": "count", "as": "n"}]}, {"calculate": "2*PI*(datum.i-1)/datum.n", "as": "th"}, {"calculate": "sin(datum.th)", "as": "sx"}, {"calculate": "cos(datum.th)", "as": "sy"}], "mark": {"type": "rule", "stroke": "#e3e3e3", "strokeWidth": 0.8}, "encoding": {"x": {"datum": 0, "type": "quantitative", "scale": {"domain": [-1.095, 1.095], "nice": false, "zero": false}, "axis": null}, "y": {"datum": 0, "type": "quantitative", "scale": {"domain": [-1.095, 1.095], "nice": false, "zero": false}, "axis": null}, "x2": {"field": "sx", "type": "quantitative"}, "y2": {"field": "sy", "type": "quantitative"}}},
            {"data": {"name": "ticks"}, "transform": [{"filter": "datum.m=='C'"}, {"calculate": "datum.t/78", "as": "r"}], "mark": {"type": "text", "align": "left", "baseline": "middle", "dx": 3, "fontSize": 14, "color": "#222222"}, "encoding": {"x": {"datum": 0, "type": "quantitative", "scale": {"domain": [-1.095, 1.095], "nice": false, "zero": false}, "axis": null}, "y": {"field": "r", "type": "quantitative", "scale": {"domain": [-1.095, 1.095], "nice": false, "zero": false}, "axis": null}, "text": {"field": "t", "type": "quantitative"}}},
            {"data": {"name": "C"}, "transform": [{"window": [{"op": "row_number", "as": "i"}]}, {"joinaggregate": [{"op": "count", "as": "n"}]}, {"calculate": "2*PI*(datum.i-1)/datum.n", "as": "th"}, {"fold": ["q", "d", "cl", "cs", "ch"], "as": ["k", "v"]}, {"lookup": "k", "from": {"data": {"name": "names"}, "key": "k", "fields": ["s"]}}, {"calculate": "datum.v/78", "as": "r"}, {"calculate": "datum.r*sin(datum.th)", "as": "px"}, {"calculate": "datum.r*cos(datum.th)", "as": "py"}], "mark": {"type": "line", "interpolate": "linear-closed", "strokeWidth": 1.2, "strokeOpacity": 0.85}, "encoding": {"x": {"field": "px", "type": "quantitative", "scale": {"domain": [-1.095, 1.095], "nice": false, "zero": false}, "axis": null}, "y": {"field": "py", "type": "quantitative", "scale": {"domain": [-1.095, 1.095], "nice": false, "zero": false}, "axis": null}, "color": {"field": "s", "type": "nominal", "title": null, "scale": {"domain": ["qwen", "doubao", "low frequency", "synonym replacement", "high frequency"], "range": ["#9d6bd6", "#149e5a", "#4ea6dc", "#a83232", "#f06a6a"]}}, "order": {"field": "i", "type": "quantitative"}}},
            {"data": {"name": "C"}, "transform": [{"window": [{"op": "row_number", "as": "i"}]}, {"joinaggregate": [{"op": "count", "as": "n"}]}, {"calculate": "2*PI*(datum.i-1)/datum.n", "as": "th"}, {"calculate": "1.085*sin(datum.th)", "as": "lx"}, {"calculate": "1.085*cos(datum.th)", "as": "ly"}, {"calculate": "datum.th<=PI ? datum.th*180/PI-90 : datum.th*180/PI-270", "as": "a"}], "mark": {"type": "text", "fontSize": 10.5, "align": "center", "baseline": "middle", "color": "#222222"}, "encoding": {"x": {"field": "lx", "type": "quantitative", "scale": {"domain": [-1.095, 1.095], "nice": false, "zero": false}, "axis": null}, "y": {"field": "ly", "type": "quantitative", "scale": {"domain": [-1.095, 1.095], "nice": false, "zero": false}, "axis": null}, "text": {"field": "l", "type": "nominal"}, "angle": {"field": "a", "type": "quantitative", "scale": null}}}
          ]
        },
        {
          "title": {"text": "CHATGPT-COMET", "dy": 5}, "width": 300, "height": 300,
          "layer": [
            {"data": {"values": [{"c": 0}]}, "mark": {"type": "point", "shape": "circle", "filled": true, "fill": "#fcfbf3", "stroke": "#333333", "strokeWidth": 1, "opacity": 1, "fillOpacity": 1, "size": 75076}, "encoding": {"x": {"datum": 0, "type": "quantitative", "scale": {"domain": [-1.095, 1.095], "nice": false, "zero": false}, "axis": null}, "y": {"datum": 0, "type": "quantitative", "scale": {"domain": [-1.095, 1.095], "nice": false, "zero": false}, "axis": null}}},
            {"data": {"name": "M"}, "transform": [{"window": [{"op": "row_number", "as": "i"}]}, {"joinaggregate": [{"op": "count", "as": "n"}]}, {"fold": ["q", "d", "cl", "cs", "ch"], "as": ["k", "v"]}, {"lookup": "k", "from": {"data": {"name": "names"}, "key": "k", "fields": ["s"]}}, {"calculate": "(datum.v-22.7)/75.7", "as": "r"}, {"calculate": "2*PI*(datum.i-1.5)/datum.n", "as": "t0"}, {"calculate": "2*PI*(datum.i-0.5)/datum.n", "as": "t1"}], "mark": {"type": "arc", "strokeWidth": 0}, "encoding": {"theta": {"field": "t0", "type": "quantitative", "scale": null, "stack": null}, "theta2": {"field": "t1"}, "radius": {"field": "r", "type": "quantitative", "scale": {"type": "linear", "domain": [0, 1], "range": [0, 137], "zero": true}}, "color": {"field": "s", "type": "nominal", "title": null, "scale": {"domain": ["qwen", "doubao", "low frequency", "synonym replacement", "high frequency"], "range": ["#9d6bd6", "#149e5a", "#4ea6dc", "#a83232", "#f06a6a"]}}, "fillOpacity": {"field": "s", "type": "nominal", "scale": {"domain": ["qwen", "doubao", "low frequency", "synonym replacement", "high frequency"], "range": [0.1, 0.05, 0.05, 0.15, 0.2]}}}},
            {"data": {"name": "ticks"}, "transform": [{"filter": "datum.m=='M'"}, {"calculate": "(datum.t-22.7)/75.7", "as": "r"}, {"filter": "datum.r>0"}], "mark": {"type": "point", "shape": "circle", "filled": false, "stroke": "#e3e3e3", "strokeWidth": 0.8, "opacity": 1}, "encoding": {"x": {"datum": 0, "type": "quantitative", "scale": {"domain": [-1.095, 1.095], "nice": false, "zero": false}, "axis": null}, "y": {"datum": 0, "type": "quantitative", "scale": {"domain": [-1.095, 1.095], "nice": false, "zero": false}, "axis": null}, "size": {"field": "r", "type": "quantitative", "legend": null, "scale": {"type": "pow", "exponent": 2, "domain": [0, 1], "range": [0, 75076]}}}},
            {"data": {"name": "M"}, "transform": [{"window": [{"op": "row_number", "as": "i"}]}, {"joinaggregate": [{"op": "count", "as": "n"}]}, {"calculate": "2*PI*(datum.i-1)/datum.n", "as": "th"}, {"calculate": "sin(datum.th)", "as": "sx"}, {"calculate": "cos(datum.th)", "as": "sy"}], "mark": {"type": "rule", "stroke": "#e3e3e3", "strokeWidth": 0.8}, "encoding": {"x": {"datum": 0, "type": "quantitative", "scale": {"domain": [-1.095, 1.095], "nice": false, "zero": false}, "axis": null}, "y": {"datum": 0, "type": "quantitative", "scale": {"domain": [-1.095, 1.095], "nice": false, "zero": false}, "axis": null}, "x2": {"field": "sx", "type": "quantitative"}, "y2": {"field": "sy", "type": "quantitative"}}},
            {"data": {"name": "ticks"}, "transform": [{"filter": "datum.m=='M'"}, {"calculate": "(datum.t-22.7)/75.7", "as": "r"}], "mark": {"type": "text", "align": "left", "baseline": "middle", "dx": 3, "fontSize": 14, "color": "#222222"}, "encoding": {"x": {"datum": 0, "type": "quantitative", "scale": {"domain": [-1.095, 1.095], "nice": false, "zero": false}, "axis": null}, "y": {"field": "r", "type": "quantitative", "scale": {"domain": [-1.095, 1.095], "nice": false, "zero": false}, "axis": null}, "text": {"field": "t", "type": "quantitative"}}},
            {"data": {"name": "M"}, "transform": [{"window": [{"op": "row_number", "as": "i"}]}, {"joinaggregate": [{"op": "count", "as": "n"}]}, {"calculate": "2*PI*(datum.i-1)/datum.n", "as": "th"}, {"fold": ["q", "d", "cl", "cs", "ch"], "as": ["k", "v"]}, {"lookup": "k", "from": {"data": {"name": "names"}, "key": "k", "fields": ["s"]}}, {"calculate": "(datum.v-22.7)/75.7", "as": "r"}, {"calculate": "datum.r*sin(datum.th)", "as": "px"}, {"calculate": "datum.r*cos(datum.th)", "as": "py"}], "mark": {"type": "line", "interpolate": "linear-closed", "strokeWidth": 1.2, "strokeOpacity": 0.85}, "encoding": {"x": {"field": "px", "type": "quantitative", "scale": {"domain": [-1.095, 1.095], "nice": false, "zero": false}, "axis": null}, "y": {"field": "py", "type": "quantitative", "scale": {"domain": [-1.095, 1.095], "nice": false, "zero": false}, "axis": null}, "color": {"field": "s", "type": "nominal", "title": null, "scale": {"domain": ["qwen", "doubao", "low frequency", "synonym replacement", "high frequency"], "range": ["#9d6bd6", "#149e5a", "#4ea6dc", "#a83232", "#f06a6a"]}}, "order": {"field": "i", "type": "quantitative"}}},
            {"data": {"name": "M"}, "transform": [{"window": [{"op": "row_number", "as": "i"}]}, {"joinaggregate": [{"op": "count", "as": "n"}]}, {"calculate": "2*PI*(datum.i-1)/datum.n", "as": "th"}, {"calculate": "1.12*sin(datum.th)", "as": "lx"}, {"calculate": "1.12*cos(datum.th)", "as": "ly"}, {"calculate": "datum.th<=PI ? datum.th*180/PI-90 : datum.th*180/PI-270", "as": "a"}], "mark": {"type": "text", "fontSize": 11, "align": "center", "baseline": "middle", "color": "#222222"}, "encoding": {"x": {"field": "lx", "type": "quantitative", "scale": {"domain": [-1.095, 1.095], "nice": false, "zero": false}, "axis": null}, "y": {"field": "ly", "type": "quantitative", "scale": {"domain": [-1.095, 1.095], "nice": false, "zero": false}, "axis": null}, "text": {"field": "l", "type": "nominal"}, "angle": {"field": "a", "type": "quantitative", "scale": null}}}
          ]
        }
      ]
    },
    {
      "spacing": 42,
      "bounds": "flush",
      "hconcat": [
        {
          "title": {"text": "DEEPSEEK-BLEU"}, "width": 300, "height": 300,
          "layer": [
            {"data": {"values": [{"c": 0}]}, "mark": {"type": "point", "shape": "circle", "filled": true, "fill": "#fcfbf3", "stroke": "#333333", "strokeWidth": 1, "opacity": 1, "fillOpacity": 1, "size": 75076}, "encoding": {"x": {"datum": 0, "type": "quantitative", "scale": {"domain": [-1.095, 1.095], "nice": false, "zero": false}, "axis": null}, "y": {"datum": 0, "type": "quantitative", "scale": {"domain": [-1.095, 1.095], "nice": false, "zero": false}, "axis": null}}},
            {"data": {"name": "B"}, "transform": [{"window": [{"op": "row_number", "as": "i"}]}, {"joinaggregate": [{"op": "count", "as": "n"}]}, {"fold": ["q", "d", "dl", "ds", "dh"], "as": ["k", "v"]}, {"lookup": "k", "from": {"data": {"name": "names"}, "key": "k", "fields": ["s"]}}, {"calculate": "datum.v/31", "as": "r"}, {"calculate": "2*PI*(datum.i-1.5)/datum.n", "as": "t0"}, {"calculate": "2*PI*(datum.i-0.5)/datum.n", "as": "t1"}], "mark": {"type": "arc", "strokeWidth": 0}, "encoding": {"theta": {"field": "t0", "type": "quantitative", "scale": null, "stack": null}, "theta2": {"field": "t1"}, "radius": {"field": "r", "type": "quantitative", "scale": {"type": "linear", "domain": [0, 1], "range": [0, 137], "zero": true}}, "color": {"field": "s", "type": "nominal", "title": null, "scale": {"domain": ["qwen", "doubao", "low frequency", "synonym replacement", "high frequency"], "range": ["#9d6bd6", "#149e5a", "#4ea6dc", "#a83232", "#f06a6a"]}}, "fillOpacity": {"field": "s", "type": "nominal", "scale": {"domain": ["qwen", "doubao", "low frequency", "synonym replacement", "high frequency"], "range": [0.1, 0.05, 0.05, 0.15, 0.2]}}}},
            {"data": {"name": "ticks"}, "transform": [{"filter": "datum.m=='B'"}, {"calculate": "datum.t/31", "as": "r"}, {"filter": "datum.r>0"}], "mark": {"type": "point", "shape": "circle", "filled": false, "stroke": "#e3e3e3", "strokeWidth": 0.8, "opacity": 1}, "encoding": {"x": {"datum": 0, "type": "quantitative", "scale": {"domain": [-1.095, 1.095], "nice": false, "zero": false}, "axis": null}, "y": {"datum": 0, "type": "quantitative", "scale": {"domain": [-1.095, 1.095], "nice": false, "zero": false}, "axis": null}, "size": {"field": "r", "type": "quantitative", "legend": null, "scale": {"type": "pow", "exponent": 2, "domain": [0, 1], "range": [0, 75076]}}}},
            {"data": {"name": "B"}, "transform": [{"window": [{"op": "row_number", "as": "i"}]}, {"joinaggregate": [{"op": "count", "as": "n"}]}, {"calculate": "2*PI*(datum.i-1)/datum.n", "as": "th"}, {"calculate": "sin(datum.th)", "as": "sx"}, {"calculate": "cos(datum.th)", "as": "sy"}], "mark": {"type": "rule", "stroke": "#e3e3e3", "strokeWidth": 0.8}, "encoding": {"x": {"datum": 0, "type": "quantitative", "scale": {"domain": [-1.095, 1.095], "nice": false, "zero": false}, "axis": null}, "y": {"datum": 0, "type": "quantitative", "scale": {"domain": [-1.095, 1.095], "nice": false, "zero": false}, "axis": null}, "x2": {"field": "sx", "type": "quantitative"}, "y2": {"field": "sy", "type": "quantitative"}}},
            {"data": {"name": "ticks"}, "transform": [{"filter": "datum.m=='B' && datum.t<=24"}, {"calculate": "datum.t/31", "as": "r"}], "mark": {"type": "text", "align": "left", "baseline": "middle", "dx": 3, "fontSize": 14, "color": "#222222"}, "encoding": {"x": {"datum": 0, "type": "quantitative", "scale": {"domain": [-1.095, 1.095], "nice": false, "zero": false}, "axis": null}, "y": {"field": "r", "type": "quantitative", "scale": {"domain": [-1.095, 1.095], "nice": false, "zero": false}, "axis": null}, "text": {"field": "t", "type": "quantitative"}}},
            {"data": {"name": "B"}, "transform": [{"window": [{"op": "row_number", "as": "i"}]}, {"joinaggregate": [{"op": "count", "as": "n"}]}, {"calculate": "2*PI*(datum.i-1)/datum.n", "as": "th"}, {"fold": ["q", "d", "dl", "ds", "dh"], "as": ["k", "v"]}, {"lookup": "k", "from": {"data": {"name": "names"}, "key": "k", "fields": ["s"]}}, {"calculate": "datum.v/31", "as": "r"}, {"calculate": "datum.r*sin(datum.th)", "as": "px"}, {"calculate": "datum.r*cos(datum.th)", "as": "py"}], "mark": {"type": "line", "interpolate": "linear-closed", "strokeWidth": 1.2, "strokeOpacity": 0.85}, "encoding": {"x": {"field": "px", "type": "quantitative", "scale": {"domain": [-1.095, 1.095], "nice": false, "zero": false}, "axis": null}, "y": {"field": "py", "type": "quantitative", "scale": {"domain": [-1.095, 1.095], "nice": false, "zero": false}, "axis": null}, "color": {"field": "s", "type": "nominal", "title": null, "scale": {"domain": ["qwen", "doubao", "low frequency", "synonym replacement", "high frequency"], "range": ["#9d6bd6", "#149e5a", "#4ea6dc", "#a83232", "#f06a6a"]}}, "order": {"field": "i", "type": "quantitative"}}},
            {"data": {"name": "B"}, "transform": [{"window": [{"op": "row_number", "as": "i"}]}, {"joinaggregate": [{"op": "count", "as": "n"}]}, {"calculate": "2*PI*(datum.i-1)/datum.n", "as": "th"}, {"calculate": "1.085*sin(datum.th)", "as": "lx"}, {"calculate": "1.085*cos(datum.th)", "as": "ly"}, {"calculate": "datum.th<=PI ? datum.th*180/PI-90 : datum.th*180/PI-270", "as": "a"}], "mark": {"type": "text", "fontSize": 10.5, "align": "center", "baseline": "middle", "color": "#222222"}, "encoding": {"x": {"field": "lx", "type": "quantitative", "scale": {"domain": [-1.095, 1.095], "nice": false, "zero": false}, "axis": null}, "y": {"field": "ly", "type": "quantitative", "scale": {"domain": [-1.095, 1.095], "nice": false, "zero": false}, "axis": null}, "text": {"field": "l", "type": "nominal"}, "angle": {"field": "a", "type": "quantitative", "scale": null}}}
          ]
        },
        {
          "title": {"text": "DEEPSEEK-CHRF", "dy": 3}, "width": 300, "height": 300,
          "layer": [
            {"data": {"values": [{"c": 0}]}, "mark": {"type": "point", "shape": "circle", "filled": true, "fill": "#fcfbf3", "stroke": "#333333", "strokeWidth": 1, "opacity": 1, "fillOpacity": 1, "size": 75076}, "encoding": {"x": {"datum": 0, "type": "quantitative", "scale": {"domain": [-1.095, 1.095], "nice": false, "zero": false}, "axis": null}, "y": {"datum": 0, "type": "quantitative", "scale": {"domain": [-1.095, 1.095], "nice": false, "zero": false}, "axis": null}}},
            {"data": {"name": "C"}, "transform": [{"window": [{"op": "row_number", "as": "i"}]}, {"joinaggregate": [{"op": "count", "as": "n"}]}, {"fold": ["q", "d", "dl", "ds", "dh"], "as": ["k", "v"]}, {"lookup": "k", "from": {"data": {"name": "names"}, "key": "k", "fields": ["s"]}}, {"calculate": "datum.v/78", "as": "r"}, {"calculate": "2*PI*(datum.i-1.5)/datum.n", "as": "t0"}, {"calculate": "2*PI*(datum.i-0.5)/datum.n", "as": "t1"}], "mark": {"type": "arc", "strokeWidth": 0}, "encoding": {"theta": {"field": "t0", "type": "quantitative", "scale": null, "stack": null}, "theta2": {"field": "t1"}, "radius": {"field": "r", "type": "quantitative", "scale": {"type": "linear", "domain": [0, 1], "range": [0, 137], "zero": true}}, "color": {"field": "s", "type": "nominal", "title": null, "scale": {"domain": ["qwen", "doubao", "low frequency", "synonym replacement", "high frequency"], "range": ["#9d6bd6", "#149e5a", "#4ea6dc", "#a83232", "#f06a6a"]}}, "fillOpacity": {"field": "s", "type": "nominal", "scale": {"domain": ["qwen", "doubao", "low frequency", "synonym replacement", "high frequency"], "range": [0.1, 0.05, 0.05, 0.15, 0.2]}}}},
            {"data": {"name": "ticks"}, "transform": [{"filter": "datum.m=='C'"}, {"calculate": "datum.t/78", "as": "r"}, {"filter": "datum.r>0"}], "mark": {"type": "point", "shape": "circle", "filled": false, "stroke": "#e3e3e3", "strokeWidth": 0.8, "opacity": 1}, "encoding": {"x": {"datum": 0, "type": "quantitative", "scale": {"domain": [-1.095, 1.095], "nice": false, "zero": false}, "axis": null}, "y": {"datum": 0, "type": "quantitative", "scale": {"domain": [-1.095, 1.095], "nice": false, "zero": false}, "axis": null}, "size": {"field": "r", "type": "quantitative", "legend": null, "scale": {"type": "pow", "exponent": 2, "domain": [0, 1], "range": [0, 75076]}}}},
            {"data": {"name": "C"}, "transform": [{"window": [{"op": "row_number", "as": "i"}]}, {"joinaggregate": [{"op": "count", "as": "n"}]}, {"calculate": "2*PI*(datum.i-1)/datum.n", "as": "th"}, {"calculate": "sin(datum.th)", "as": "sx"}, {"calculate": "cos(datum.th)", "as": "sy"}], "mark": {"type": "rule", "stroke": "#e3e3e3", "strokeWidth": 0.8}, "encoding": {"x": {"datum": 0, "type": "quantitative", "scale": {"domain": [-1.095, 1.095], "nice": false, "zero": false}, "axis": null}, "y": {"datum": 0, "type": "quantitative", "scale": {"domain": [-1.095, 1.095], "nice": false, "zero": false}, "axis": null}, "x2": {"field": "sx", "type": "quantitative"}, "y2": {"field": "sy", "type": "quantitative"}}},
            {"data": {"name": "ticks"}, "transform": [{"filter": "datum.m=='C'"}, {"calculate": "datum.t/78", "as": "r"}], "mark": {"type": "text", "align": "left", "baseline": "middle", "dx": 3, "fontSize": 14, "color": "#222222"}, "encoding": {"x": {"datum": 0, "type": "quantitative", "scale": {"domain": [-1.095, 1.095], "nice": false, "zero": false}, "axis": null}, "y": {"field": "r", "type": "quantitative", "scale": {"domain": [-1.095, 1.095], "nice": false, "zero": false}, "axis": null}, "text": {"field": "t", "type": "quantitative"}}},
            {"data": {"name": "C"}, "transform": [{"window": [{"op": "row_number", "as": "i"}]}, {"joinaggregate": [{"op": "count", "as": "n"}]}, {"calculate": "2*PI*(datum.i-1)/datum.n", "as": "th"}, {"fold": ["q", "d", "dl", "ds", "dh"], "as": ["k", "v"]}, {"lookup": "k", "from": {"data": {"name": "names"}, "key": "k", "fields": ["s"]}}, {"calculate": "datum.v/78", "as": "r"}, {"calculate": "datum.r*sin(datum.th)", "as": "px"}, {"calculate": "datum.r*cos(datum.th)", "as": "py"}], "mark": {"type": "line", "interpolate": "linear-closed", "strokeWidth": 1.2, "strokeOpacity": 0.85}, "encoding": {"x": {"field": "px", "type": "quantitative", "scale": {"domain": [-1.095, 1.095], "nice": false, "zero": false}, "axis": null}, "y": {"field": "py", "type": "quantitative", "scale": {"domain": [-1.095, 1.095], "nice": false, "zero": false}, "axis": null}, "color": {"field": "s", "type": "nominal", "title": null, "scale": {"domain": ["qwen", "doubao", "low frequency", "synonym replacement", "high frequency"], "range": ["#9d6bd6", "#149e5a", "#4ea6dc", "#a83232", "#f06a6a"]}}, "order": {"field": "i", "type": "quantitative"}}},
            {"data": {"name": "C"}, "transform": [{"window": [{"op": "row_number", "as": "i"}]}, {"joinaggregate": [{"op": "count", "as": "n"}]}, {"calculate": "2*PI*(datum.i-1)/datum.n", "as": "th"}, {"calculate": "1.085*sin(datum.th)", "as": "lx"}, {"calculate": "1.085*cos(datum.th)", "as": "ly"}, {"calculate": "datum.th<=PI ? datum.th*180/PI-90 : datum.th*180/PI-270", "as": "a"}], "mark": {"type": "text", "fontSize": 10.5, "align": "center", "baseline": "middle", "color": "#222222"}, "encoding": {"x": {"field": "lx", "type": "quantitative", "scale": {"domain": [-1.095, 1.095], "nice": false, "zero": false}, "axis": null}, "y": {"field": "ly", "type": "quantitative", "scale": {"domain": [-1.095, 1.095], "nice": false, "zero": false}, "axis": null}, "text": {"field": "l", "type": "nominal"}, "angle": {"field": "a", "type": "quantitative", "scale": null}}}
          ]
        },
        {
          "title": {"text": "DEEPSEEK-COMET", "dy": 5}, "width": 300, "height": 300,
          "layer": [
            {"data": {"values": [{"c": 0}]}, "mark": {"type": "point", "shape": "circle", "filled": true, "fill": "#fcfbf3", "stroke": "#333333", "strokeWidth": 1, "opacity": 1, "fillOpacity": 1, "size": 75076}, "encoding": {"x": {"datum": 0, "type": "quantitative", "scale": {"domain": [-1.095, 1.095], "nice": false, "zero": false}, "axis": null}, "y": {"datum": 0, "type": "quantitative", "scale": {"domain": [-1.095, 1.095], "nice": false, "zero": false}, "axis": null}}},
            {"data": {"name": "M"}, "transform": [{"window": [{"op": "row_number", "as": "i"}]}, {"joinaggregate": [{"op": "count", "as": "n"}]}, {"fold": ["q", "d", "dl", "ds", "dh"], "as": ["k", "v"]}, {"lookup": "k", "from": {"data": {"name": "names"}, "key": "k", "fields": ["s"]}}, {"calculate": "(datum.v-22.7)/75.7", "as": "r"}, {"calculate": "2*PI*(datum.i-1.5)/datum.n", "as": "t0"}, {"calculate": "2*PI*(datum.i-0.5)/datum.n", "as": "t1"}], "mark": {"type": "arc", "strokeWidth": 0}, "encoding": {"theta": {"field": "t0", "type": "quantitative", "scale": null, "stack": null}, "theta2": {"field": "t1"}, "radius": {"field": "r", "type": "quantitative", "scale": {"type": "linear", "domain": [0, 1], "range": [0, 137], "zero": true}}, "color": {"field": "s", "type": "nominal", "title": null, "scale": {"domain": ["qwen", "doubao", "low frequency", "synonym replacement", "high frequency"], "range": ["#9d6bd6", "#149e5a", "#4ea6dc", "#a83232", "#f06a6a"]}}, "fillOpacity": {"field": "s", "type": "nominal", "scale": {"domain": ["qwen", "doubao", "low frequency", "synonym replacement", "high frequency"], "range": [0.1, 0.05, 0.05, 0.15, 0.2]}}}},
            {"data": {"name": "ticks"}, "transform": [{"filter": "datum.m=='M'"}, {"calculate": "(datum.t-22.7)/75.7", "as": "r"}, {"filter": "datum.r>0"}], "mark": {"type": "point", "shape": "circle", "filled": false, "stroke": "#e3e3e3", "strokeWidth": 0.8, "opacity": 1}, "encoding": {"x": {"datum": 0, "type": "quantitative", "scale": {"domain": [-1.095, 1.095], "nice": false, "zero": false}, "axis": null}, "y": {"datum": 0, "type": "quantitative", "scale": {"domain": [-1.095, 1.095], "nice": false, "zero": false}, "axis": null}, "size": {"field": "r", "type": "quantitative", "legend": null, "scale": {"type": "pow", "exponent": 2, "domain": [0, 1], "range": [0, 75076]}}}},
            {"data": {"name": "M"}, "transform": [{"window": [{"op": "row_number", "as": "i"}]}, {"joinaggregate": [{"op": "count", "as": "n"}]}, {"calculate": "2*PI*(datum.i-1)/datum.n", "as": "th"}, {"calculate": "sin(datum.th)", "as": "sx"}, {"calculate": "cos(datum.th)", "as": "sy"}], "mark": {"type": "rule", "stroke": "#e3e3e3", "strokeWidth": 0.8}, "encoding": {"x": {"datum": 0, "type": "quantitative", "scale": {"domain": [-1.095, 1.095], "nice": false, "zero": false}, "axis": null}, "y": {"datum": 0, "type": "quantitative", "scale": {"domain": [-1.095, 1.095], "nice": false, "zero": false}, "axis": null}, "x2": {"field": "sx", "type": "quantitative"}, "y2": {"field": "sy", "type": "quantitative"}}},
            {"data": {"name": "ticks"}, "transform": [{"filter": "datum.m=='M'"}, {"calculate": "(datum.t-22.7)/75.7", "as": "r"}], "mark": {"type": "text", "align": "left", "baseline": "middle", "dx": 3, "fontSize": 14, "color": "#222222"}, "encoding": {"x": {"datum": 0, "type": "quantitative", "scale": {"domain": [-1.095, 1.095], "nice": false, "zero": false}, "axis": null}, "y": {"field": "r", "type": "quantitative", "scale": {"domain": [-1.095, 1.095], "nice": false, "zero": false}, "axis": null}, "text": {"field": "t", "type": "quantitative"}}},
            {"data": {"name": "M"}, "transform": [{"window": [{"op": "row_number", "as": "i"}]}, {"joinaggregate": [{"op": "count", "as": "n"}]}, {"calculate": "2*PI*(datum.i-1)/datum.n", "as": "th"}, {"fold": ["q", "d", "dl", "ds", "dh"], "as": ["k", "v"]}, {"lookup": "k", "from": {"data": {"name": "names"}, "key": "k", "fields": ["s"]}}, {"calculate": "(datum.v-22.7)/75.7", "as": "r"}, {"calculate": "datum.r*sin(datum.th)", "as": "px"}, {"calculate": "datum.r*cos(datum.th)", "as": "py"}], "mark": {"type": "line", "interpolate": "linear-closed", "strokeWidth": 1.2, "strokeOpacity": 0.85}, "encoding": {"x": {"field": "px", "type": "quantitative", "scale": {"domain": [-1.095, 1.095], "nice": false, "zero": false}, "axis": null}, "y": {"field": "py", "type": "quantitative", "scale": {"domain": [-1.095, 1.095], "nice": false, "zero": false}, "axis": null}, "color": {"field": "s", "type": "nominal", "title": null, "scale": {"domain": ["qwen", "doubao", "low frequency", "synonym replacement", "high frequency"], "range": ["#9d6bd6", "#149e5a", "#4ea6dc", "#a83232", "#f06a6a"]}}, "order": {"field": "i", "type": "quantitative"}}},
            {"data": {"name": "M"}, "transform": [{"window": [{"op": "row_number", "as": "i"}]}, {"joinaggregate": [{"op": "count", "as": "n"}]}, {"calculate": "2*PI*(datum.i-1)/datum.n", "as": "th"}, {"calculate": "1.12*sin(datum.th)", "as": "lx"}, {"calculate": "1.12*cos(datum.th)", "as": "ly"}, {"calculate": "datum.th<=PI ? datum.th*180/PI-90 : datum.th*180/PI-270", "as": "a"}], "mark": {"type": "text", "fontSize": 11, "align": "center", "baseline": "middle", "color": "#222222"}, "encoding": {"x": {"field": "lx", "type": "quantitative", "scale": {"domain": [-1.095, 1.095], "nice": false, "zero": false}, "axis": null}, "y": {"field": "ly", "type": "quantitative", "scale": {"domain": [-1.095, 1.095], "nice": false, "zero": false}, "axis": null}, "text": {"field": "l", "type": "nominal"}, "angle": {"field": "a", "type": "quantitative", "scale": null}}}
          ]
        }
      ]
    }
  ]
}
